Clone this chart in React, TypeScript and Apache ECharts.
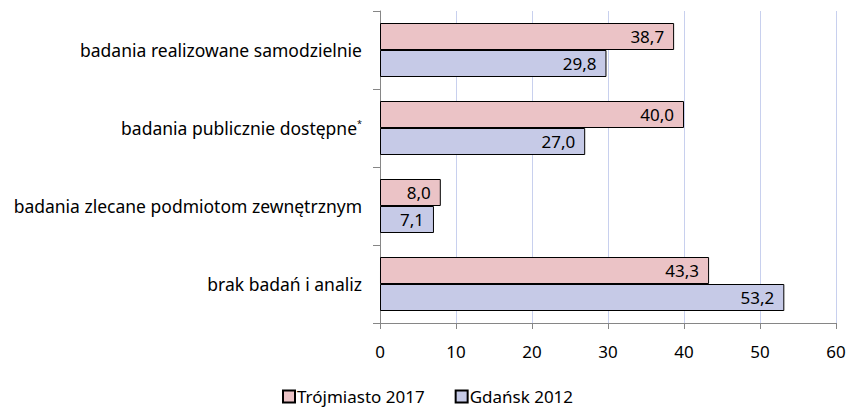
import React, { useEffect, useRef } from "react";
import * as echarts from "echarts";

const categories = [
  "badania realizowane samodzielnie",
  "badania publicznie dostępne*",
  "badania zlecane podmiotom zewnętrznym",
  "brak badań i analiz",
];
const seriesNames = ["Trójmiasto 2017", "Gdańsk 2012"];
const trojmiasto2017 = [38.7, 40.0, 8.0, 43.3];
const gdansk2012 = [29.8, 27.0, 7.1, 53.2];
const xTicks = [0, 10, 20, 30, 40, 50, 60];

const FONT = "'Noto Sans', 'Open Sans', sans-serif";
const FS = 17;

export default function App() {
  const ref = useRef<HTMLDivElement>(null);
  useEffect(() => {
    if (!ref.current) return;
    const chart = echarts.init(ref.current, undefined, { renderer: "svg" });
    const fmt = (p: any) => Number(p.value).toFixed(1).replace(".", ",");
    chart.setOption({
      animation: false,
      textStyle: { fontFamily: FONT },
      grid: { left: 380, right: 14, top: 11, bottom: 87, containLabel: false },
      legend: {
        left: 282,
        top: 388,
        padding: 0,
        itemWidth: 12,
        itemHeight: 12,
        itemGap: 30,
        icon: "rect",
        textStyle: {
          fontSize: 17,
          lineHeight: 17,
          color: "#000",
          fontFamily: FONT,
          padding: [0, 0, 0, -3],
        },
        data: seriesNames,
      },
      xAxis: {
        type: "value",
        min: xTicks[0],
        max: xTicks[xTicks.length - 1],
        interval: 10,
        axisLine: { show: true, lineStyle: { color: "#868686" } },
        axisTick: { show: true, length: 6, lineStyle: { color: "#868686" } },
        axisLabel: { fontSize: FS, color: "#000", margin: 20, fontFamily: FONT },
        splitLine: { show: true, lineStyle: { color: "#C8D0EE", width: 1 } },
      },
      yAxis: {
        type: "category",
        inverse: true,
        data: categories,
        axisLine: { show: true, lineStyle: { color: "#868686" } },
        axisTick: { show: true, length: 7, lineStyle: { color: "#868686" } },
        axisLabel: {
          fontSize: 17.5,
          color: "#000",
          margin: 18,
          fontFamily: FONT,
          formatter: (v: string) =>
            v.endsWith("*") ? v.slice(0, -1) + "{sup|*}" : v,
          rich: {
            sup: { fontSize: 9, verticalAlign: "top", padding: [0, 0, 9, 0], color: "#000" },
          },
        },
      },
      series: [
        {
          name: seriesNames[0],
          type: "bar",
          data: trojmiasto2017,
          barWidth: 27,
          barGap: "0%",
          itemStyle: { color: "#EBC3C6", borderColor: "#000", borderWidth: 1 },
          label: {
            show: true,
            position: "insideRight",
            distance: 10,
            fontSize: FS,
            color: "#000",
            fontFamily: FONT,
            formatter: fmt,
          },
        },
        {
          name: seriesNames[1],
          type: "bar",
          data: gdansk2012,
          barWidth: 27,
          barGap: "0%",
          itemStyle: { color: "#C6CAE7", borderColor: "#000", borderWidth: 1 },
          label: {
            show: true,
            position: "insideRight",
            distance: 10,
            fontSize: FS,
            color: "#000",
            fontFamily: FONT,
            formatter: fmt,
          },
        },
      ],
    });
    return () => chart.dispose();
  }, []);
  return (
    <div
      ref={ref}
      style={{ position: "absolute", left: 0, top: 0, width: 850, height: 410 }}
    />
  );
}
